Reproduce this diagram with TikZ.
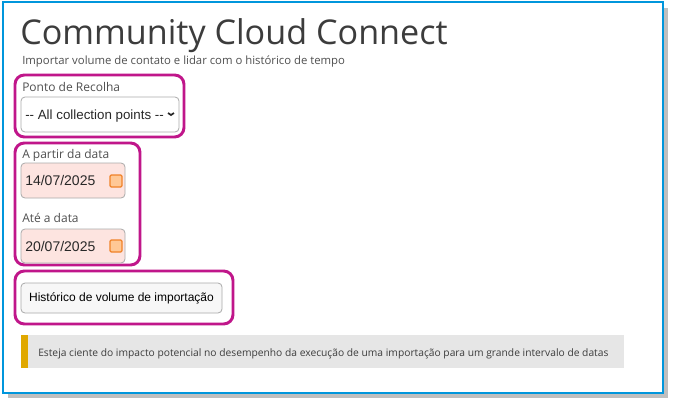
\documentclass[tikz,border=0pt]{standalone}
\usepackage{fontspec}
\setmainfont{Open Sans}
\newfontfamily\arial{Liberation Sans}
\definecolor{mag}{RGB}{192,22,138}
\definecolor{bdr}{RGB}{170,170,170}
\definecolor{lab}{RGB}{80,80,80}
\definecolor{valc}{RGB}{40,40,40}
\definecolor{calb}{RGB}{240,130,40}
\definecolor{calf}{RGB}{255,200,150}
\definecolor{frame}{RGB}{0,150,220}
\definecolor{pinkf}{RGB}{253,228,224}
\definecolor{btnf}{RGB}{247,247,247}
\definecolor{warnf}{RGB}{230,230,230}
\definecolor{gold}{RGB}{224,168,0}
\definecolor{ttl}{RGB}{60,60,60}
\begin{document}
\begin{tikzpicture}[x=0.75pt,y=-0.75pt,
  hl/.style={draw=mag,line width=2.2pt,rounded corners=7pt},
  inp/.style={draw=bdr,line width=0.6pt,rounded corners=3pt},
  lbl/.style={anchor=base west,font=\fontsize{9}{10}\selectfont,text=lab,inner sep=0},
  val/.style={anchor=base west,font=\arial\fontsize{10.5}{12}\selectfont,text=valc,inner sep=0},
  cal/.style={draw=calb,fill=calf,line width=0.9pt,rounded corners=1pt,minimum width=9pt,minimum height=9pt,inner sep=0}]
\useasboundingbox (0,0) rectangle (678,411);
\fill[black!25] (8,8) rectangle (668,398);
\fill[white] (3,2) rectangle (663,393);
\draw[frame,line width=1.5pt] (3,2) rectangle (663,393);
\node[anchor=base west,inner sep=0,font=\fontsize{25.6}{30}\selectfont,text=ttl] (title) at (20,44) {Community Cloud Connect};
\node[anchor=base west,inner sep=0,font=\fontsize{8.5}{10}\selectfont,text=lab] (sub) at (22,64) {Importar volume de contato e lidar com o histórico de tempo};
\draw[hl] (15,75) rectangle (184,137);
\draw[hl] (15,143) rectangle (140,265);
\draw[hl] (15,271) rectangle (233,324);
\node[lbl] (l1) at (22,91) {Ponto de Recolha};
\draw[inp,fill=white] (21,97) rectangle (179,132);
\node[val,font=\arial\fontsize{10}{12}\selectfont] (s1) at (25,119) {-- All collection points --};
\coordinate (ch) at (171,115);
\draw[line width=1.3pt,valc] ([shift={(-3,-2)}]ch) -- (ch) -- ([shift={(3,-2)}]ch);
\node[lbl] (l2) at (22,158) {A partir da data};
\draw[inp,fill=pinkf] (21,163) rectangle (125,198);
\node[val] (d1) at (25,185) {14/07/2025};
\node[cal] (c1) at (116,181) {};
\node[lbl] (l3) at (22,222) {Até a data};
\draw[inp,fill=pinkf] (21,229) rectangle (125,263);
\node[val] (d2) at (25,251) {20/07/2025};
\node[cal] (c2) at (116,246) {};
\draw[inp,fill=btnf] (21,283) rectangle (222,313);
\node[inner sep=0,font=\arial\fontsize{9}{10}\selectfont] (btn) at (121.5,298) {Histórico de volume de importação};
\fill[warnf] (21,335) rectangle (624,368);
\fill[gold] (21,335) rectangle (28,368);
\node[anchor=base west,inner sep=0,font=\fontsize{7.7}{9}\selectfont,text=ttl] (warn) at (38,356) {Esteja ciente do impacto potencial no desempenho da execução de uma importação para um grande intervalo de datas};
\end{tikzpicture}
\end{document}
